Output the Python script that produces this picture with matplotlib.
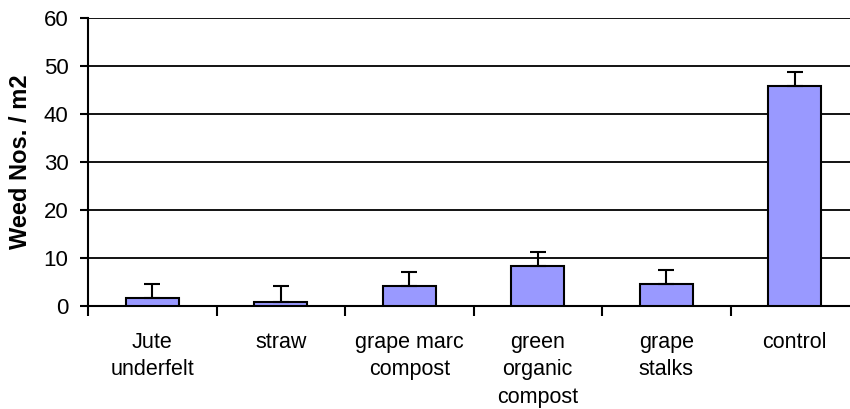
import matplotlib.pyplot as plt
import numpy as np

plt.rcParams['font.family'] = ['Liberation Sans', 'DejaVu Sans']

categories = ["Jute\nunderfelt", "straw", "grape marc\ncompost",
              "green\norganic\ncompost", "grape\nstalks", "control"]
means = [1.7, 0.8, 4.2, 8.3, 4.6, 45.9]
errors = [2.9, 3.3, 2.8, 2.9, 2.8, 2.9]
yticks = [0, 10, 20, 30, 40, 50, 60]

fig = plt.figure(figsize=(8.5, 4.09), dpi=100)
ax = fig.add_axes([88 / 850, 103 / 409, 771 / 850, 288 / 409])

x = np.arange(len(categories))
ax.bar(x, means, width=0.41, color="#9999FF", edgecolor="black",
       linewidth=1.5, zorder=3)
ax.errorbar(x, means, yerr=[np.zeros(len(errors)), errors], fmt="none",
            ecolor="black", elinewidth=1.5, capsize=5.5, capthick=1.5,
            zorder=4)

ax.set_xlim(-0.5, len(categories) - 0.5)
ax.set_ylim(0, 60)
ax.set_yticks(yticks)
ax.yaxis.grid(True, color="black", linewidth=1.3, zorder=0)
ax.set_axisbelow(True)

# category labels sit in the middle, tick marks on the boundaries
ax.set_xticks(x)
ax.set_xticklabels(categories, fontsize=15.5, linespacing=1.38)
ax.set_xticks(np.arange(len(categories) + 1) - 0.5, minor=True)
ax.tick_params(axis="x", which="major", length=0, pad=19)
ax.tick_params(axis="x", which="minor", length=7, width=1.5, direction="out")
ax.tick_params(axis="y", length=6, width=1.5, direction="out", pad=8,
               labelsize=16)

for side in ("top", "right"):
    ax.spines[side].set_visible(False)
for side in ("left", "bottom"):
    ax.spines[side].set_linewidth(1.5)

ax.set_ylabel("Weed Nos. / m2", fontsize=17, fontweight="bold")
ax.yaxis.set_label_coords(-56 / 771, 0.5)

fig.savefig("out.png", dpi=100)
